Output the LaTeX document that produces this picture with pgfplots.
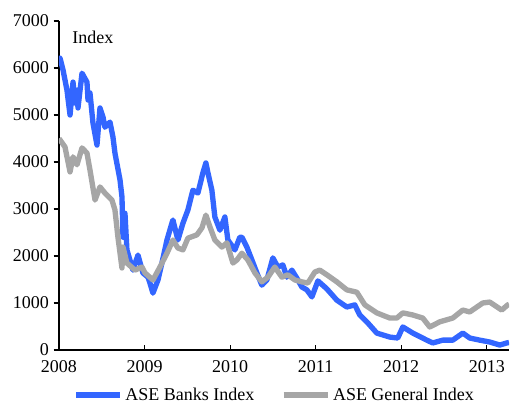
\documentclass[border=0pt]{standalone}
\usepackage{pgfplots}
\pgfplotsset{compat=1.18}
\usetikzlibrary{calc}
\usepackage{fontspec}
\setmainfont{Liberation Serif}

\definecolor{bankblue}{HTML}{3366FF}
\definecolor{gengray}{HTML}{A6A6A6}

\begin{document}
\begin{tikzpicture}
\begin{axis}[
    width=337.5pt, height=246.75pt, scale only axis,
    xmin=2008, xmax=2013.26,
    ymin=0, ymax=7000,
    xtick={2008,2009,2010,2011,2012,2013},
    ytick={0,1000,2000,3000,4000,5000,6000,7000},
    axis x line*=bottom, axis y line*=left,
    axis line style={line width=1.1pt},
    tick align=inside,
    major tick length=4pt,
    tick style={black, line width=0.8pt},
    ytick style={xshift=-4pt},
    /pgf/number format/1000 sep={},
    /pgf/number format/assume math mode=true,
    tick label style={font=\fontsize{13.5}{16}\selectfont},
    yticklabel style={xshift=-4pt},
    xticklabel style={yshift=-4pt},
    legend columns=2,
    legend style={at={(axis description cs:0.48,-0.098)}, anchor=north,
                  draw=none, font=\fontsize{13.5}{16}\selectfont,
                  /tikz/every even column/.append style={column sep=18pt}},
    legend image code/.code={\draw[#1] (0pt,0pt) -- (33pt,0pt);},
    line join=round,
]

\addplot[bankblue, line width=4pt] coordinates {
    (2008.000,6200) (2008.012,6210) (2008.047,5960) (2008.093,5530)
    (2008.129,5000) (2008.164,5700) (2008.187,5255) (2008.210,5530)
    (2008.222,5150) (2008.269,5890) (2008.327,5700) (2008.339,5320)
    (2008.362,5470) (2008.397,4830) (2008.444,4360) (2008.479,5150)
    (2008.514,4960) (2008.537,4740) (2008.596,4850) (2008.631,4530)
    (2008.654,4190) (2008.713,3620) (2008.736,3260) (2008.748,2400)
    (2008.771,2910) (2008.794,2130) (2008.864,1700) (2008.923,2020)
    (2008.981,1640) (2009.040,1550) (2009.063,1425) (2009.098,1210)
    (2009.157,1490) (2009.203,1850) (2009.262,2340) (2009.320,2700)
    (2009.332,2765) (2009.390,2340) (2009.449,2700) (2009.507,2980)
    (2009.565,3400) (2009.624,3340) (2009.682,3770) (2009.717,3980)
    (2009.741,3770) (2009.787,3400) (2009.822,2830) (2009.881,2550)
    (2009.939,2830) (2009.974,2340) (2010.056,2130) (2010.114,2400)
    (2010.138,2400) (2010.196,2190) (2010.255,1915) (2010.313,1640)
    (2010.371,1380) (2010.430,1490) (2010.500,1960) (2010.558,1765)
    (2010.617,1810) (2010.664,1550) (2010.722,1700) (2010.780,1530)
    (2010.839,1340) (2010.897,1280) (2010.956,1130) (2011.026,1470)
    (2011.107,1340) (2011.131,1300) (2011.248,1060) (2011.364,915)
    (2011.458,960) (2011.516,745) (2011.610,575) (2011.715,360)
    (2011.867,275) (2011.960,255) (2012.019,490) (2012.136,360)
    (2012.299,210) (2012.369,150) (2012.486,210) (2012.603,210)
    (2012.720,360) (2012.801,255) (2012.918,210) (2013.035,170)
    (2013.152,106) (2013.234,150) (2013.26,160)
};
\addlegendentry{ASE Banks Index}

\addplot[gengray, line width=4pt] coordinates {
    (2008.000,4500) (2008.012,4470) (2008.070,4320) (2008.129,3790)
    (2008.164,4110) (2008.210,3940) (2008.269,4300) (2008.327,4190)
    (2008.362,3830) (2008.421,3190) (2008.479,3470) (2008.537,3340)
    (2008.619,3190) (2008.654,2980) (2008.689,2400) (2008.736,1745)
    (2008.748,2190) (2008.794,1850) (2008.888,1700) (2008.970,1765)
    (2009.005,1640) (2009.098,1490) (2009.180,1765) (2009.262,2060)
    (2009.332,2340) (2009.390,2170) (2009.449,2130) (2009.507,2380)
    (2009.612,2450) (2009.671,2600) (2009.717,2870) (2009.764,2620)
    (2009.822,2340) (2009.904,2190) (2009.963,2280) (2010.033,1850)
    (2010.079,1915) (2010.138,2060) (2010.208,1915) (2010.290,1640)
    (2010.371,1450) (2010.442,1550) (2010.523,1765) (2010.605,1550)
    (2010.675,1600) (2010.757,1490) (2010.839,1450) (2010.909,1425)
    (2010.991,1660) (2011.049,1700) (2011.131,1600) (2011.248,1450)
    (2011.364,1280) (2011.481,1230) (2011.575,960) (2011.715,790)
    (2011.867,680) (2011.949,680) (2012.019,790) (2012.136,745)
    (2012.252,680) (2012.334,490) (2012.451,600) (2012.603,680)
    (2012.720,850) (2012.801,810) (2012.953,1000) (2013.035,1020)
    (2013.175,850) (2013.245,960) (2013.26,970)
};
\addlegendentry{ASE General Index}

\node[anchor=west, font=\fontsize{13.5}{16}\selectfont]
    at (axis cs:2008.1,6660) {Index};
\end{axis}
\pgfresetboundingbox
\path[use as bounding box] ($(current axis.south west)+(-44.25pt,-41.25pt)$)
    rectangle ($(current axis.south west)+(338.25pt,262.5pt)$);
\end{tikzpicture}
\end{document}
